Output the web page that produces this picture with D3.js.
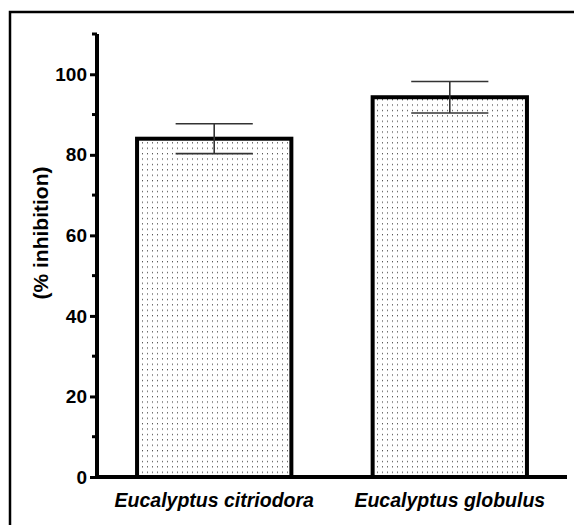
<!DOCTYPE html>
<html>
<script src="https://d3js.org/d3.v7.min.js"></script>

<head>
    <style>
        body {
            margin: 0;
            background-color: #fff;
            font-family: Arial, "Liberation Sans", Helvetica, sans-serif;
        }
    </style>
</head>

<body>
</body>
<script>
    const width = 574,
        height = 525;

    const species = ["Eucalyptus citriodora", "Eucalyptus globulus"];
    const inhibition = [84, 94.3];
    const errors = [3.7, 3.9];
    const yTicks = [0, 20, 40, 60, 80, 100];
    const yMinorTicks = [10, 30, 50, 70, 90, 110];

    const data = species.map((s, i) => ({ name: s, value: inhibition[i], err: errors[i] }));

    const svg = d3.select("body").append("svg").attr("width", width).attr("height", height);

    // dotted fill like the original plot
    const defs = svg.append("defs");
    const pat = defs.append("pattern")
        .attr("id", "dots")
        .attr("patternUnits", "userSpaceOnUse")
        .attr("width", 5)
        .attr("height", 5.4);
    pat.append("rect").attr("width", 5).attr("height", 5.4).attr("fill", "#fff");
    pat.append("rect").attr("x", 2).attr("y", 2).attr("width", 1).attr("height", 1).attr("fill", "#222");

    // outer frame
    svg.append("rect")
        .attr("x", 10)
        .attr("y", 12)
        .attr("width", 700)
        .attr("height", 700)
        .attr("fill", "none")
        .attr("stroke", "black")
        .attr("stroke-width", 2.5);

    const x = d3.scaleBand()
        .domain(species)
        .range([97, 567])
        .paddingInner(0.345)
        .paddingOuter(0.17);

    const y = d3.scaleLinear()
        .domain([0, 110])
        .range([477, 34]);

    // bars
    svg.append("g")
        .selectAll("rect")
        .data(data)
        .enter()
        .append("rect")
        .attr("x", d => x(d.name))
        .attr("y", d => y(d.value))
        .attr("width", x.bandwidth())
        .attr("height", d => y(0) - y(d.value))
        .attr("fill", "url(#dots)")
        .attr("stroke", "black")
        .attr("stroke-width", 4);

    // error bars
    const eb = svg.append("g")
        .attr("stroke", "#333")
        .attr("stroke-width", 1.6);
    data.forEach(d => {
        const cx = x(d.name) + x.bandwidth() / 2;
        const cap = x.bandwidth() * 0.25;
        eb.append("line")
            .attr("x1", cx).attr("x2", cx)
            .attr("y1", y(d.value + d.err)).attr("y2", y(d.value - d.err));
        eb.append("line")
            .attr("x1", cx - cap).attr("x2", cx + cap)
            .attr("y1", y(d.value + d.err)).attr("y2", y(d.value + d.err));
        eb.append("line")
            .attr("x1", cx - cap).attr("x2", cx + cap)
            .attr("y1", y(d.value - d.err)).attr("y2", y(d.value - d.err));
    });

    // y axis
    const yAxis = svg.append("g")
        .attr("transform", "translate(97,0)")
        .call(d3.axisLeft(y).tickValues(yTicks).tickSize(7).tickPadding(3).tickSizeOuter(0));
    yAxis.select(".domain")
        .attr("d", "M0," + (y(0) + 2) + "V" + y(110))
        .style("stroke", "black")
        .style("stroke-width", "4px");
    yAxis.selectAll(".tick line")
        .style("stroke", "black")
        .style("stroke-width", "3px");
    yAxis.selectAll(".tick text")
        .attr("font-family", "Arial, 'Liberation Sans', sans-serif")
        .attr("font-size", 19)
        .attr("font-weight", "bold")
        .attr("fill", "black");

    svg.append("g")
        .selectAll("line")
        .data(yMinorTicks)
        .enter()
        .append("line")
        .attr("x1", 92)
        .attr("x2", 97)
        .attr("y1", d => y(d))
        .attr("y2", d => y(d))
        .style("stroke", "black")
        .style("stroke-width", "3px");

    // x axis
    const xAxis = svg.append("g")
        .attr("transform", "translate(0,477)")
        .call(d3.axisBottom(x).tickSize(0).tickPadding(16));
    xAxis.select(".domain")
        .attr("d", "M95,0H567")
        .style("stroke", "black")
        .style("stroke-width", "4px");
    xAxis.selectAll(".tick text")
        .attr("font-family", "Arial, 'Liberation Sans', sans-serif")
        .attr("font-size", 19.5)
        .attr("font-weight", "bold")
        .attr("font-style", "italic")
        .attr("fill", "black");

    // y label
    svg.append("text")
        .attr("transform", "translate(48,233) rotate(-90)")
        .attr("text-anchor", "middle")
        .attr("font-size", 21)
        .attr("font-weight", "bold")
        .text("(% inhibition)");
</script>

</html>
